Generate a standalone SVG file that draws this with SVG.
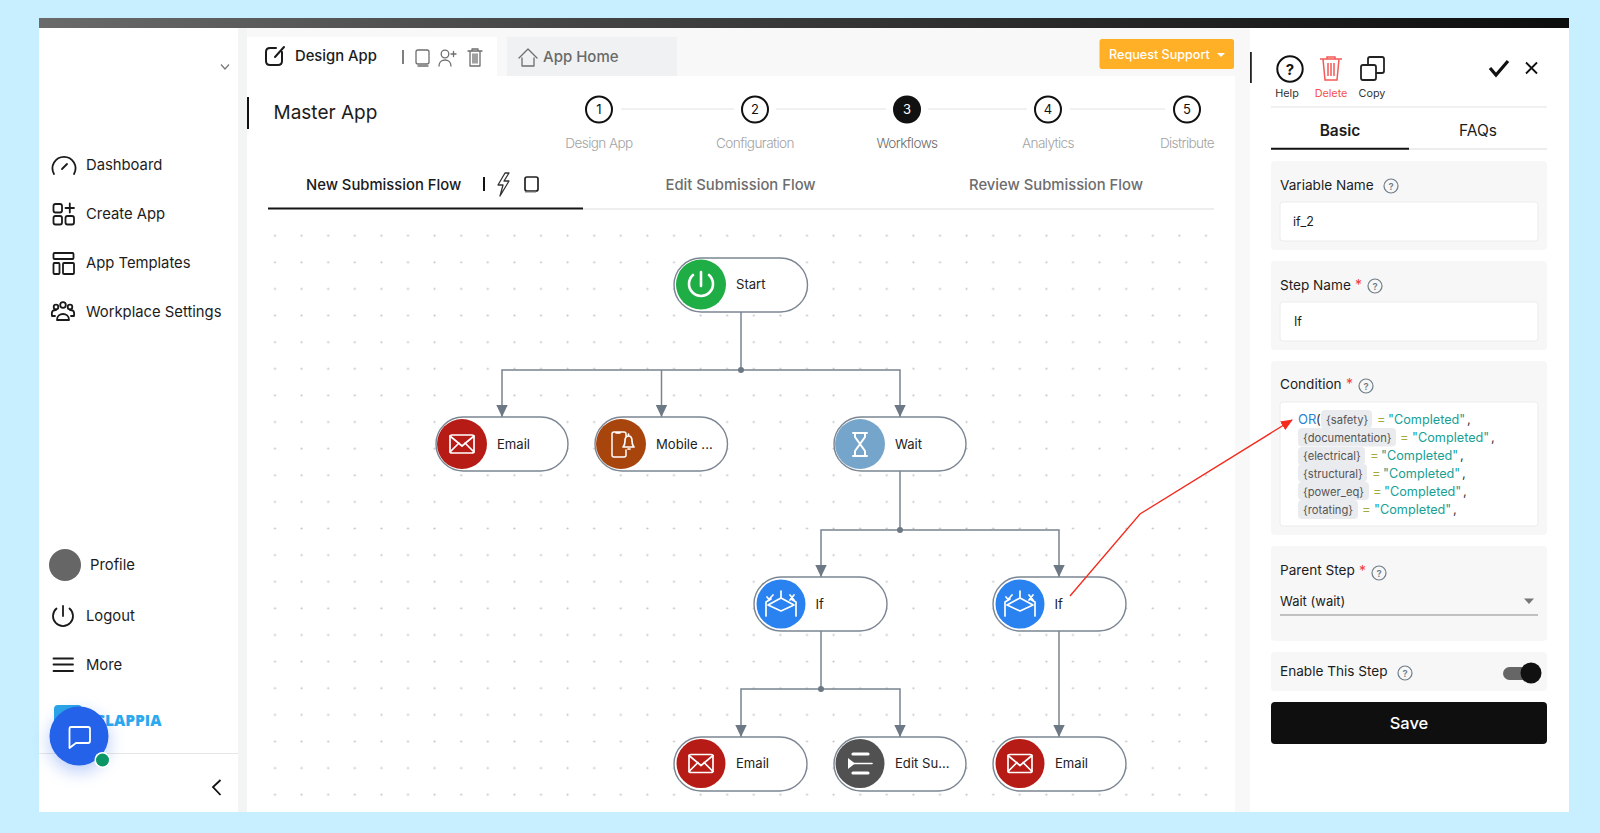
<svg xmlns="http://www.w3.org/2000/svg" width="1600" height="833" viewBox="0 0 1600 833">
<style>
text{font-family:Inter,"Liberation Sans",sans-serif;fill:#1c1c1c}
.side{font-size:14.8px}
.pill{fill:#fff;stroke:#7b8692;stroke-width:1.4}
.lbl{font-size:13.1px;fill:#222}
.ico{fill:none;stroke:#fff;stroke-width:1.7;stroke-linecap:round;stroke-linejoin:round}
.blk{fill:none;stroke:#1a1a1a;stroke-width:1.8;stroke-linecap:round;stroke-linejoin:round}
.gry{fill:none;stroke:#6e6e6e;stroke-width:1.3;stroke-linecap:round;stroke-linejoin:round}
.conn{fill:none;stroke:#78848e;stroke-width:1.5}
.step{fill:#fff;stroke:#111;stroke-width:2}
.stepn{font-size:13px;text-anchor:middle;fill:#111}
.stepl{font-size:13.6px;font-weight:300;text-anchor:middle;fill:#a3a3a3;letter-spacing:-.6px}
.sline{stroke:#ececec;stroke-width:1.6}
.card{fill:#f7f7f7}
.input{fill:#fff;stroke:#ececec}
.flabel{font-size:13.6px;fill:#1c1c1c}
.star{font-size:14px;fill:#f23a3a}
.tip{fill:none;stroke:#6f7d88;stroke-width:1.2}
.tipt{font-size:9.5px;fill:#6f7d88;text-anchor:middle;font-weight:600}
.chip{fill:#e9ebee}
.var{font-size:11.2px;fill:#555}
.eq{font-size:13px;fill:#a2ab3a}
.str{font-size:12.7px;fill:#16a094}
.cm{font-size:13px;fill:#333}
.tab{font-size:14.8px;font-weight:500}
.small{font-size:10.8px;text-anchor:middle;fill:#333}
</style>
<defs>
<linearGradient id="bar" x1="0" x2="1" y1="0" y2="0"><stop offset="0" stop-color="#6a6a6a"/><stop offset=".35" stop-color="#444"/><stop offset="1" stop-color="#0d0d0d"/></linearGradient>
<pattern id="dots" x="273.500" y="234.200" width="26.6" height="26.62" patternUnits="userSpaceOnUse"><circle cx="1.5" cy="1.5" r="1.05" fill="#bfc2c4"/></pattern>
<marker id="arr" markerUnits="userSpaceOnUse" markerWidth="13" markerHeight="12" refX="12.500" refY="6" orient="auto" viewBox="0 0 13 12"><path d="M0.500 0.300V11.700L12.500 6Z" fill="#6c7883"/></marker>
<marker id="red" markerUnits="userSpaceOnUse" markerWidth="12" markerHeight="10" refX="11" refY="5" orient="auto" viewBox="0 0 12 10"><path d="M0 0L12 5L0 10Z" fill="#f32a1c"/></marker>
<filter id="sh" x="-60%" y="-60%" width="220%" height="220%"><feGaussianBlur stdDeviation="9"/></filter>
<g id="i-email"><rect x="-12" y="-9" width="24" height="18" rx="2" class="ico"/><path d="M-12-8L0 2L12-8M-12 8L-3-1M12 8L3-1" class="ico"/></g>
<g id="i-if"><path d="M0-13V-6M0-6L-13 1L0 7L13 1Z" class="ico"/><path d="M-15 12V-2L-10-5M15 12V-2L10-5" class="ico"/><path d="M-14-7L-12-4.500L-8-9M9-9L13-4M13-9L9-4" class="ico"/></g>
</defs>

<rect width="1600" height="833" fill="#c8efff"/>
<rect x="39" y="18" width="1530" height="794" fill="#fff"/>
<rect x="238" y="28" width="9" height="784" fill="#f3f4f4"/>
<rect x="247" y="28" width="1003" height="48" fill="#f8f8f8"/>
<rect x="1235" y="28" width="15" height="784" fill="#f8f8f8"/>
<rect x="39" y="18" width="1530" height="10" fill="url(#bar)"/>

<g id="sidebar">
<path d="M221 64.500L225 69L229 64.500" fill="none" stroke="#777" stroke-width="1.200"/>
<g id="nav-dashboard"><path d="M54 174A11.500 11.500 0 1 1 74 174" class="blk"/><path d="M62 169L67 164" class="blk"/><text x="86" y="170" class="side">Dashboard</text></g>
<g id="nav-create"><rect x="53.500" y="204" width="8.500" height="8.500" rx="2" class="blk"/><rect x="53.500" y="216" width="8.500" height="8.500" rx="2" class="blk"/><rect x="65.500" y="216" width="8.500" height="8.500" rx="2" class="blk"/><path d="M69.800 203.500V212.500M65.500 208H74" class="blk"/><text x="86" y="219" class="side">Create App</text></g>
<g id="nav-templates"><rect x="53.500" y="253" width="20" height="6" rx="1" class="blk"/><rect x="53.500" y="263" width="6" height="11" rx="1" class="blk"/><rect x="63" y="263" width="11" height="11" rx="1" class="blk"/><text x="86" y="268" class="side">App Templates</text></g>
<g id="nav-settings"><circle cx="63" cy="305" r="2.800" class="blk"/><circle cx="56" cy="307" r="2.300" class="blk"/><circle cx="70" cy="307" r="2.300" class="blk"/><path d="M57 320C57 312 69 312 69 320ZM55 316H52C51 310 54 310 56 310M71 316H74C75 310 72 310 70 310" class="blk"/><text x="86" y="317" class="side">Workplace Settings</text></g>
<g id="nav-profile"><circle cx="65" cy="565" r="16" fill="#666"/><text x="90" y="570" class="side">Profile</text></g>
<g id="nav-logout"><path d="M56.500 608.500A10 10 0 1 0 69.500 608.500M63 606V616" class="blk"/><text x="86" y="621" class="side">Logout</text></g>
<g id="nav-more"><path d="M53.500 658.500H73M53.500 664.500H73M53.500 671H73" class="blk"/><text x="86" y="670" class="side">More</text></g>
<g id="brand"><rect x="54" y="705" width="28" height="26" rx="4" fill="#2aa5e6"/><text x="161.500" y="726" text-anchor="end" style="font-family:'Open Sans','Liberation Sans',sans-serif;font-weight:800;font-size:15.500px;fill:#2aa9ee">CLAPPIA</text></g>
<line x1="39" y1="753.500" x2="238" y2="753.500" stroke="#e6e6e6" stroke-width="1.200"/>
<path d="M220.500 780L213 787L220.500 795" fill="none" stroke="#111" stroke-width="1.800"/>
<g id="chat"><circle cx="79" cy="742" r="29" fill="#2563eb" opacity=".35" filter="url(#sh)"/><circle cx="79" cy="736" r="29.500" fill="#2362e9"/><path d="M71 727H88Q90 727 90 729V741Q90 743 88 743H76L69.500 748V729Q69.500 727 71 727Z" fill="none" stroke="#fff" stroke-width="1.800" stroke-linejoin="round"/><circle cx="102.500" cy="760" r="8" fill="#fff"/><circle cx="102.500" cy="760" r="6.500" fill="#0b9668"/></g>
</g>

<g id="topbar">
<rect x="247" y="37" width="250" height="39" fill="#fff"/>
<rect x="507" y="37" width="170" height="39" fill="#f0f1f2"/>
<path d="M282 52V61Q282 65 278 65H270Q266 65 266 61V52Q266 48 270 48H276M275 57L284 47" class="blk" style="stroke-width:2"/>
<text x="295" y="61" style="font-size:14.800px;font-weight:500">Design App</text>
<line x1="403" y1="50" x2="403" y2="64" stroke="#555" stroke-width="1.500"/>
<rect x="416" y="50" width="13" height="14" rx="2" class="gry"/><path d="M418 66H428" class="gry"/>
<circle cx="445" cy="54" r="3.800" class="gry"/><path d="M439 66C439 58 451 58 451 66M451 54H456M453.500 51.500V56.500" class="gry"/>
<path d="M468 51H482M472 51V49H478V51M470 51V66H480V51M473 54V63M475 54V63M477 54V63" class="gry"/>
<path d="M519 58L528 49L537 58M522 58V66H534V58" class="gry"/>
<text x="543" y="62" style="font-size:15px;font-weight:500;fill:#6a6a6a">App Home</text>
<g id="request-support"><rect x="1099.500" y="39" width="134.500" height="30" rx="2.500" fill="#ffb027"/><text x="1109" y="59" style="font-size:12.600px;font-weight:500;fill:#fff">Request Support</text><path d="M1217 53H1225L1221 57Z" fill="#fff"/></g>
<rect x="247" y="97" width="2" height="32" fill="#111"/>
<text x="273.500" y="119" style="font-size:19px">Master App</text>
</g>

<g id="stepper">
<line x1="621" y1="109" x2="734" y2="109" class="sline"/><line x1="776" y1="109" x2="886" y2="109" class="sline"/><line x1="928" y1="109" x2="1027" y2="109" class="sline"/><line x1="1070" y1="109" x2="1165" y2="109" class="sline"/>
<g id="step1"><circle cx="599" cy="109.500" r="13" class="step"/><text x="599" y="114" class="stepn">1</text><text x="599" y="148" class="stepl">Design App</text></g>
<g id="step2"><circle cx="755" cy="109.500" r="13" class="step"/><text x="755" y="114" class="stepn">2</text><text x="755" y="148" class="stepl">Configuration</text></g>
<g id="step3"><circle cx="907" cy="109.500" r="14" fill="#111"/><text x="907" y="114" class="stepn" style="fill:#fff">3</text><text x="907" y="148" class="stepl" style="fill:#6b6b6b">Workflows</text></g>
<g id="step4"><circle cx="1048" cy="109.500" r="13" class="step"/><text x="1048" y="114" class="stepn">4</text><text x="1048" y="148" class="stepl">Analytics</text></g>
<g id="step5"><circle cx="1187" cy="109.500" r="13" class="step"/><text x="1187" y="114" class="stepn">5</text><text x="1187" y="148" class="stepl">Distribute</text></g>
</g>

<g id="flow-tabs">
<text x="306" y="189.500" class="tab" style="fill:#1a1a1a">New Submission Flow</text>
<line x1="484" y1="177" x2="484" y2="191" stroke="#111" stroke-width="2"/>
<path d="M505 173L498 185H503L500 196L509 181H504L509 173Z" class="gry" style="stroke:#333"/>
<rect x="525" y="177" width="13" height="14" rx="2" fill="none" stroke="#222" stroke-width="1.700"/><path d="M525 192H536" stroke="#777" fill="none"/>
<text x="665.500" y="189.500" class="tab" style="fill:#6d6d6d">Edit Submission Flow</text>
<text x="969" y="189.500" class="tab" style="fill:#6d6d6d">Review Submission Flow</text>
<line x1="583" y1="209" x2="1214" y2="209" stroke="#e9e9e9" stroke-width="1.600"/>
<line x1="268" y1="208.500" x2="583" y2="208.500" stroke="#151515" stroke-width="2"/>
</g>

<rect id="grid" x="265" y="226" width="950" height="580" fill="url(#dots)"/>

<g id="connectors">
<path d="M741 312V370" class="conn"/>
<path d="M741 370H502V417" class="conn" marker-end="url(#arr)"/>
<path d="M661.500 370V417" class="conn" marker-end="url(#arr)"/>
<path d="M741 370H900V417" class="conn" marker-end="url(#arr)"/>
<circle cx="741" cy="370" r="3" fill="#6c7883"/>
<path d="M900 471V530" class="conn"/>
<path d="M900 530H821V577" class="conn" marker-end="url(#arr)"/>
<path d="M900 530H1059V577" class="conn" marker-end="url(#arr)"/>
<circle cx="900" cy="530" r="3" fill="#6c7883"/>
<path d="M821 631V689" class="conn"/>
<path d="M821 689H741V737" class="conn" marker-end="url(#arr)"/>
<path d="M821 689H900V737" class="conn" marker-end="url(#arr)"/>
<circle cx="821" cy="689" r="3" fill="#6c7883"/>
<path d="M1059 631V737" class="conn" marker-end="url(#arr)"/>
</g>

<g id="node-start"><rect x="674" y="258" width="133.500" height="54" rx="27" class="pill"/><circle cx="701" cy="284.500" r="25" fill="#1fad45"/><path d="M693 275A12 12 0 1 0 709 275" class="ico" style="stroke-width:2.600"/><path d="M701 272V286" class="ico" style="stroke-width:2.600"/><text x="736" y="289" class="lbl">Start</text></g>
<g id="node-email1"><rect x="436" y="417" width="132" height="54" rx="27" class="pill"/><circle cx="462" cy="444" r="25" fill="#b71b16"/><use href="#i-email" x="462" y="444"/><text x="497" y="449" class="lbl">Email</text></g>
<g id="node-mobile"><rect x="595" y="417" width="132.500" height="54" rx="27" class="pill"/><circle cx="621" cy="444" r="25" fill="#a8450d"/><path d="M626 436V434Q626 432 624 432H614Q612 432 612 434V455Q612 457 614 457H624Q626 457 626 455V450M616 433H620" class="ico" style="stroke-width:1.500"/><path d="M623 447H634Q632 445 632 441Q632 436 628.500 436Q625 436 625 441Q625 445 623 447ZM628.500 434V436M628 449H630" class="ico"/><text x="656" y="449" class="lbl">Mobile ...</text></g>
<g id="node-wait"><rect x="834" y="417" width="132" height="54" rx="27" class="pill"/><circle cx="860" cy="444" r="25" fill="#76a5cb"/><path d="M853 433H867M853 456H867M855 433V437L860 444L855 451V456M865 433V437L860 444L865 451V456" class="ico" style="stroke-width:2"/><text x="895" y="449" class="lbl">Wait</text></g>
<g id="node-if1"><rect x="754" y="577" width="133" height="54" rx="27" class="pill"/><circle cx="781" cy="604" r="24.500" fill="#2a82f0"/><use href="#i-if" x="781" y="604"/><text x="815.500" y="609" class="lbl">If</text></g>
<g id="node-if2"><rect x="993" y="577" width="133" height="54" rx="27" class="pill"/><circle cx="1020" cy="604" r="24.500" fill="#2a82f0"/><use href="#i-if" x="1020" y="604"/><text x="1054.500" y="609" class="lbl">If</text></g>
<g id="node-email2"><rect x="674" y="737" width="133" height="54" rx="27" class="pill"/><circle cx="701" cy="763.500" r="24.500" fill="#b71b16"/><use href="#i-email" x="701" y="763.500"/><text x="736" y="768" class="lbl">Email</text></g>
<g id="node-edit"><rect x="834" y="737" width="132" height="54" rx="27" class="pill"/><circle cx="860" cy="763.500" r="24.500" fill="#515151"/><path d="M853 754H868M853 773H868" stroke="#fff" stroke-width="3.200" stroke-linecap="round"/><path d="M853 763.500H872" stroke="#fff" stroke-width="1.600" stroke-linecap="round"/><path d="M848 758V769L855 763.500Z" fill="#fff"/><text x="895" y="768" class="lbl">Edit Su...</text></g>
<g id="node-email3"><rect x="993" y="737" width="133" height="54" rx="27" class="pill"/><circle cx="1020" cy="763.500" r="24.500" fill="#b71b16"/><use href="#i-email" x="1020" y="763.500"/><text x="1055" y="768" class="lbl">Email</text></g>

<g id="panel">
<rect x="1250" y="28" width="319" height="784" fill="#fff"/>
<rect x="1250" y="52" width="1.800" height="31" fill="#222"/>
<g id="help-btn"><circle cx="1290" cy="69" r="12.700" fill="none" stroke="#111" stroke-width="2"/><text x="1290" y="74.500" text-anchor="middle" style="font-size:15px;font-weight:700;fill:#111">?</text><text x="1287" y="97" class="small">Help</text></g>
<g id="delete-btn" fill="none" stroke="#f45a57" stroke-width="1.500"><path d="M1320 59H1342M1327 59V57H1335V59M1323 59L1325 80H1337L1339 59M1328 63V76M1331 63V76M1334 63V76"/><text x="1331" y="97" class="small" style="fill:#f4504d;stroke:none">Delete</text></g>
<g id="copy-btn"><rect x="1361" y="65" width="15" height="15" rx="2" fill="none" stroke="#222" stroke-width="1.800"/><path d="M1368 65V59Q1368 57 1370 57H1382Q1384 57 1384 59V71Q1384 73 1382 73H1376" fill="none" stroke="#222" stroke-width="1.800"/><text x="1372" y="97" class="small">Copy</text></g>
<path d="M1490 68L1496 75L1508 61" fill="none" stroke="#111" stroke-width="3.200"/>
<path d="M1526 62.500L1537 73.500M1537 62.500L1526 73.500" stroke="#111" stroke-width="1.800" fill="none"/>
<line x1="1271" y1="107" x2="1547" y2="107" stroke="#ececec" stroke-width="1.500"/>
<text x="1340" y="136" text-anchor="middle" style="font-size:15.500px;font-weight:600">Basic</text>
<text x="1478" y="136" text-anchor="middle" style="font-size:15.500px;font-weight:400">FAQs</text>
<line x1="1409" y1="149" x2="1547" y2="149" stroke="#dcdcdc" stroke-width="1.200"/>
<line x1="1271" y1="148.800" x2="1409" y2="148.800" stroke="#111" stroke-width="2"/>

<g id="field-variable"><rect x="1271" y="161" width="276" height="89" rx="4" class="card"/><text x="1280" y="190" class="flabel">Variable Name</text><circle cx="1391" cy="186" r="7" class="tip"/><text x="1391" y="189.500" class="tipt">?</text><rect x="1280" y="202" width="258" height="39" rx="3" class="input"/><text x="1293" y="226" style="font-size:12.500px">if_2</text></g>
<g id="field-step"><rect x="1271" y="261" width="276" height="89" rx="4" class="card"/><text x="1280" y="289.500" class="flabel">Step Name</text><text x="1355" y="290" class="star">*</text><circle cx="1375" cy="286" r="7" class="tip"/><text x="1375" y="289.500" class="tipt">?</text><rect x="1280" y="302" width="258" height="39" rx="3" class="input"/><text x="1294" y="326" style="font-size:12.500px">If</text></g>
<g id="field-condition"><rect x="1271" y="361" width="276" height="174" rx="4" class="card"/><text x="1280" y="389" class="flabel">Condition</text><text x="1346" y="389" class="star">*</text><circle cx="1366" cy="386" r="7" class="tip"/><text x="1366" y="389.500" class="tipt">?</text><rect x="1280" y="402" width="258" height="124" rx="3" class="input"/>
<text x="1298" y="424" style="font-size:13px;fill:#2b83d6">OR</text><text x="1316" y="424" class="cm">(</text>
<rect x="1321" y="410" width="51" height="18.500" rx="4" class="chip"/><text x="1326" y="424" class="var">{safety}</text><text x="1377" y="424" class="eq">=</text><text x="1388" y="424" class="str">"Completed"</text><text x="1467" y="424" class="cm">,</text>
<rect x="1298" y="428" width="98" height="18.500" rx="4" class="chip"/><text x="1303" y="442" class="var">{documentation}</text><text x="1400" y="442" class="eq">=</text><text x="1412" y="442" class="str">"Completed"</text><text x="1491" y="442" class="cm">,</text>
<rect x="1298" y="447" width="67" height="18" rx="4" class="chip"/><text x="1303" y="460" class="var">{electrical}</text><text x="1370" y="460" class="eq">=</text><text x="1381" y="460" class="str">"Completed"</text><text x="1460" y="460" class="cm">,</text>
<rect x="1298" y="464" width="69" height="18" rx="4" class="chip"/><text x="1303" y="478" class="var">{structural}</text><text x="1372" y="478" class="eq">=</text><text x="1383" y="478" class="str">"Completed"</text><text x="1462" y="478" class="cm">,</text>
<rect x="1298" y="482" width="71" height="18" rx="4" class="chip"/><text x="1303" y="496" class="var">{power_eq}</text><text x="1373" y="496" class="eq">=</text><text x="1384" y="496" class="str">"Completed"</text><text x="1463" y="496" class="cm">,</text>
<rect x="1298" y="500" width="60" height="19" rx="4" class="chip"/><text x="1303" y="514" class="var">{rotating}</text><text x="1362" y="514" class="eq">=</text><text x="1374" y="514" class="str">"Completed"</text><text x="1453" y="514" class="cm">,</text>
</g>
<g id="field-parent"><rect x="1271" y="546" width="276" height="95" rx="4" class="card"/><text x="1280" y="575" class="flabel">Parent Step</text><text x="1359" y="576" class="star">*</text><circle cx="1379" cy="573" r="7" class="tip"/><text x="1379" y="576.500" class="tipt">?</text><text x="1280" y="606" style="font-size:13px">Wait (wait)</text><path d="M1524 598.500H1534L1529 604Z" fill="#777"/><line x1="1280" y1="615" x2="1538" y2="615" stroke="#8a8a8a" stroke-width="1.200"/></g>
<g id="field-enable"><rect x="1271" y="652" width="276" height="39" rx="4" class="card"/><text x="1280" y="676" class="flabel">Enable This Step</text><circle cx="1405" cy="673" r="7" class="tip"/><text x="1405" y="676.500" class="tipt">?</text><rect x="1503" y="667" width="28" height="13" rx="6.500" fill="#666"/><circle cx="1531" cy="673" r="10.500" fill="#111"/></g>
<g id="save"><rect x="1271" y="702" width="276" height="42" rx="4" fill="#0f0f0f"/><text x="1409" y="728.500" text-anchor="middle" style="font-size:16.500px;font-weight:500;fill:#fff">Save</text></g>
</g>

<path id="callout" d="M1070 596L1140 514L1292 420" fill="none" stroke="#f32a1c" stroke-width="1.300" marker-end="url(#red)"/>
</svg>
